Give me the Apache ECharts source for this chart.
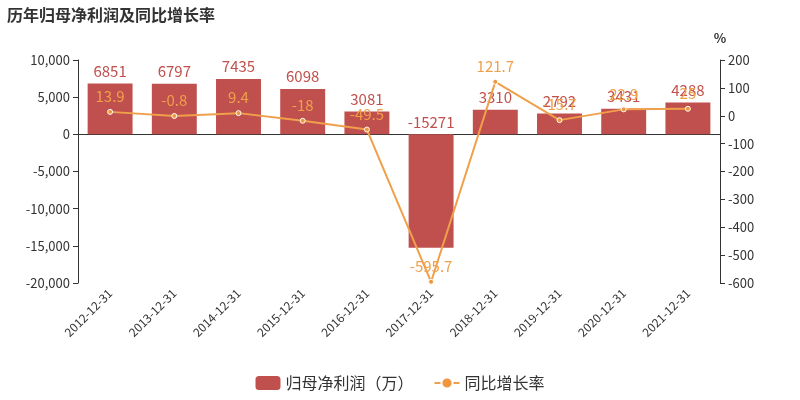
<!DOCTYPE html><html><head><meta charset="utf-8"><script src="https://cdn.jsdelivr.net/npm/echarts@6/dist/echarts.min.js"></script></head><body style="margin:0"><div id="c" style="width:800px;height:400px"></div><script>
const categories=['2012-12-31','2013-12-31','2014-12-31','2015-12-31','2016-12-31','2017-12-31','2018-12-31','2019-12-31','2020-12-31','2021-12-31'];
const profit=[6851,6797,7435,6098,3081,-15271,3310,2792,3431,4288];
const growth=[13.9,-0.8,9.4,-18,-49.5,-595.7,121.7,-15.7,22.9,25];
const c=echarts.init(document.getElementById('c'));
const ff='"Noto Sans CJK SC",sans-serif';
c.setOption({textStyle:{fontFamily:ff},
title:{text:'历年归母净利润及同比增长率',left:2,top:2,textStyle:{fontSize:16,fontWeight:'bold',color:'#333'}},
grid:{left:78,right:80,top:60,bottom:117},
legend:{bottom:4,itemGap:20,textStyle:{fontSize:16,color:'#333'},data:['归母净利润（万）','同比增长率']},
xAxis:{type:'category',data:categories,axisTick:{alignWithLabel:false},axisLabel:{rotate:45,color:'#333',fontSize:12,interval:0},axisLine:{lineStyle:{color:'#333'}}},
yAxis:[{type:'value',min:-20000,max:10000,interval:5000,splitLine:{show:false},axisLine:{show:true,lineStyle:{color:'#333'}},axisTick:{show:true},axisLabel:{color:'#333',fontSize:13}},
{type:'value',name:'%',nameTextStyle:{color:'#333',fontSize:13,fontWeight:'bold'},min:-600,max:200,interval:100,splitLine:{show:false},axisLine:{show:true,lineStyle:{color:'#333'}},axisTick:{show:true},axisLabel:{color:'#333',fontSize:13}}],
series:[{name:'归母净利润（万）',type:'bar',data:profit,barWidth:'70%',itemStyle:{color:'#c0504d'},label:{show:true,position:'top',color:'#c0504d',fontSize:15}},
{name:'同比增长率',type:'line',yAxisIndex:1,data:growth,symbol:'circle',symbolSize:5,itemStyle:{color:'#f0963c',borderColor:'#fff',borderWidth:1},lineStyle:{color:'#f0a04b',width:2},label:{show:true,position:'top',color:'#f0a04b',fontSize:15}}]});
</script></body></html>
